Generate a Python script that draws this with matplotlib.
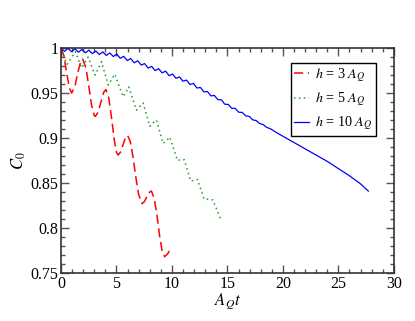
import matplotlib
matplotlib.use("Agg")
import matplotlib.pyplot as plt
from matplotlib.ticker import MultipleLocator, FormatStrFormatter

plt.rcParams['font.family'] = ['Liberation Serif', 'DejaVu Serif']
plt.rcParams['mathtext.fontset'] = 'stix'

# h = 3 A_Q (red dashed)
t_h3 = [0.0, 0.25, 0.5, 0.75, 0.96, 1.25, 1.5, 1.75, 1.95, 2.25, 2.5, 2.75, 3.0, 3.1,
        3.35, 3.6, 3.85, 4.05, 4.3, 4.55, 4.8, 5.0, 5.15, 5.4, 5.6, 5.8, 6.0, 6.25,
        6.5, 6.75, 7.0, 7.3, 7.5, 7.75, 8.0, 8.15, 8.4, 8.65, 8.9, 9.15, 9.34, 9.6,
        9.8, 10.0]
c_h3 = [1.0, 0.992, 0.973, 0.956, 0.950, 0.957, 0.972, 0.984, 0.988, 0.978, 0.958,
        0.937, 0.925, 0.924, 0.929, 0.940, 0.951, 0.954, 0.945, 0.923, 0.898, 0.884,
        0.881, 0.885, 0.893, 0.900, 0.903, 0.896, 0.878, 0.856, 0.837, 0.827, 0.829,
        0.835, 0.840, 0.841, 0.833, 0.814, 0.790, 0.772, 0.768, 0.771, 0.775, 0.778]

# h = 5 A_Q (green dotted)
t_h5 = [0.0, 0.28, 0.55, 0.92, 1.3, 1.58, 1.85, 2.15, 2.45, 2.75, 3.06, 3.35, 3.65,
        3.95, 4.26, 4.55, 4.85, 5.22, 5.6, 5.85, 6.1, 6.45, 6.8, 7.1, 7.4, 7.7, 8.0,
        8.3, 8.6, 8.9, 9.2, 9.5, 9.8, 10.15, 10.5, 10.8, 11.1, 11.4, 11.7, 12.0, 12.3,
        12.6, 12.9, 13.2, 13.7, 14.05, 14.45]
c_h5 = [0.997, 0.990, 0.982, 0.989, 0.996, 0.987, 0.978, 0.984, 0.990, 0.980, 0.970,
        0.977, 0.985, 0.972, 0.959, 0.965, 0.971, 0.958, 0.946, 0.951, 0.957, 0.944,
        0.931, 0.935, 0.939, 0.926, 0.913, 0.917, 0.920, 0.907, 0.894, 0.897, 0.901,
        0.888, 0.875, 0.876, 0.876, 0.864, 0.852, 0.853, 0.854, 0.843, 0.832, 0.832,
        0.831, 0.820, 0.808]

# h = 10 A_Q (blue solid), sampled at the wiggle extrema
t_h10 = [0.000, 0.314, 0.628, 0.942, 1.257, 1.571, 1.885, 2.199, 2.513, 2.827, 3.142,
         3.456, 3.770, 4.084, 4.398, 4.712, 5.027, 5.341, 5.655, 5.969, 6.283, 6.597,
         6.912, 7.226, 7.540, 7.854, 8.168, 8.482, 8.796, 9.111, 9.425, 9.739, 10.053,
         10.367, 10.681, 10.996, 11.310, 11.624, 11.938, 12.252, 12.566, 12.881,
         13.195, 13.509, 13.823, 14.137, 14.451, 14.765, 15.080, 15.394, 15.708,
         16.022, 16.336, 16.650, 16.965, 17.279, 17.593, 17.907, 18.221, 18.535,
         18.850, 19.5, 20.0, 21.0, 22.0, 23.0, 24.0, 25.0, 26.0, 27.0, 27.7]
c_h10 = [1.0000, 0.9965, 0.9998, 0.9961, 0.9993, 0.9955, 0.9986, 0.9948, 0.9978,
         0.9939, 0.9968, 0.9929, 0.9958, 0.9919, 0.9947, 0.9907, 0.9934, 0.9887,
         0.9909, 0.9862, 0.9884, 0.9837, 0.9859, 0.9812, 0.9828, 0.9778, 0.9797,
         0.9750, 0.9772, 0.9725, 0.9744, 0.9694, 0.9712, 0.9664, 0.9680, 0.9632,
         0.9645, 0.9596, 0.9607, 0.9556, 0.9563, 0.9513, 0.9518, 0.9469, 0.9474,
         0.9427, 0.9425, 0.9376, 0.9374, 0.9330, 0.9330, 0.9287, 0.9285, 0.9246,
         0.9241, 0.9202, 0.9195, 0.9161, 0.9150, 0.9118, 0.9105, 0.9055, 0.902,
         0.895, 0.888, 0.881, 0.874, 0.866, 0.858, 0.849, 0.841]

labels = [r'$h$ = 3 $A_Q$', r'$h$ = 5 $A_Q$', r'$h$ = 10 $A_Q$']

fig = plt.figure(figsize=(4.15, 3.21), dpi=100)
ax = fig.add_axes([0.147, 0.150, 0.802, 0.700])

ax.plot(t_h3, c_h3, color='#ff0000', lw=1.1, dashes=(6, 3), label=labels[0])
ax.plot(t_h5, c_h5, color='#22a022', lw=1.1, dashes=(1, 2.2), label=labels[1])
ax.plot(t_h10, c_h10, color='#0000ff', lw=0.9, label=labels[2])

ax.set_xlim(0, 30)
ax.set_ylim(0.75, 1.0)
ax.xaxis.set_major_locator(MultipleLocator(5))
ax.xaxis.set_minor_locator(MultipleLocator(1))
ax.yaxis.set_major_locator(MultipleLocator(0.05))
ax.yaxis.set_minor_locator(MultipleLocator(0.01))
ax.yaxis.set_major_formatter(FormatStrFormatter('%g'))
ax.tick_params(which='both', direction='in', top=True, right=True,
               labelsize=11.5, color='#555555')
ax.tick_params(which='major', length=6, width=1, pad=2)
ax.tick_params(which='minor', length=3, width=1)
for sp in ax.spines.values():
    sp.set_linewidth(1.2)
    sp.set_color('#333333')

ax.set_xlabel(r'$A_Q t$', fontsize=12, labelpad=0)
ax.set_ylabel(r'$C_0$', fontsize=12, labelpad=2)

leg = ax.legend(loc='upper right', bbox_to_anchor=(0.946, 0.934), fontsize=10.2,
                fancybox=False, edgecolor='black', framealpha=1,
                handlelength=1.0, handletextpad=0.45, borderpad=0.25,
                labelspacing=0.45, borderaxespad=0)
leg.get_frame().set_linewidth(1.0)

fig.savefig('out.png', dpi=100)
